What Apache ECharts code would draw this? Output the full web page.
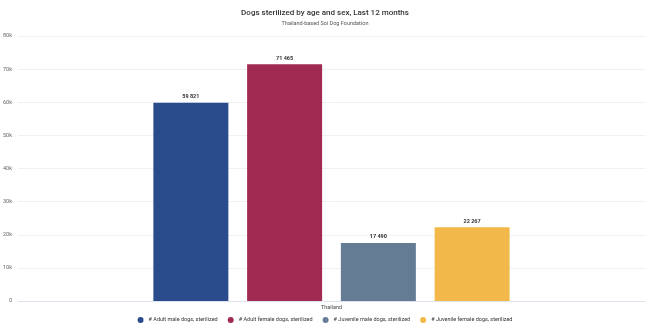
<!DOCTYPE html>
<html><head><meta charset="utf-8">
<script src="https://cdn.jsdelivr.net/npm/echarts@6/dist/echarts.min.js"></script>
<style>html,body{margin:0;padding:0;background:#fff}#c{width:650px;height:329px}</style>
</head><body><div id="c"></div>
<script>
const categories = ["Thailand"];
const seriesNames = ["# Adult male dogs, sterilized", "# Adult female dogs, sterilized", "# Juvenile male dogs, sterilized", "# Juvenile female dogs, sterilized"];
const adultMale = [59821];
const adultFemale = [71465];
const juvenileMale = [17490];
const juvenileFemale = [22267];
const yTicks = [0, 10000, 20000, 30000, 40000, 50000, 60000, 70000, 80000];
const colors = ["#2b4c8c", "#a02a52", "#647d95", "#f2b84a"];
const values = [adultMale, adultFemale, juvenileMale, juvenileFemale];

const chart = echarts.init(document.getElementById('c'));
const fmt = v => String(v).replace(/\B(?=(\d{3})+(?!\d))/g, ' ');
chart.setOption({
  animation: false,
  textStyle: {fontFamily: 'Roboto'},
  title: {
    text: 'Dogs sterilized by age and sex, Last 12 months',
    subtext: 'Thailand-based Soi Dog Foundation',
    left: 'center', top: 4, itemGap: 4,
    textStyle: {fontSize: 8, fontWeight: 500, color: '#333'},
    subtextStyle: {fontSize: 5.5, color: '#555'}
  },
  legend: {
    bottom: 1, left: 'center', icon: 'circle', itemWidth: 6, itemHeight: 6, itemGap: 10,
    textStyle: {fontSize: 5.5, color: '#333'}
  },
  grid: {left: 17, right: 5, top: 36, bottom: 28},
  xAxis: {
    type: 'category', data: categories,
    axisLine: {lineStyle: {color: '#dde3ee'}}, axisTick: {show: false},
    axisLabel: {fontSize: 5.5, color: '#444', margin: 4}
  },
  yAxis: {
    type: 'value', min: 0, max: 80000, interval: 10000,
    axisLabel: {fontSize: 5.5, color: '#666', margin: 6, formatter: v => v === 0 ? '0' : (v/1000) + 'k'},
    splitLine: {lineStyle: {color: '#eef0f3'}}
  },
  series: values.map((d, i) => ({
    name: seriesNames[i], type: 'bar', data: d, barWidth: 75, barGap: '25%',
    itemStyle: {color: colors[i]},
    label: {show: true, position: 'top', fontSize: 5.5, fontWeight: 'bold', color: '#333', distance: 3, formatter: p => fmt(p.value)}
  }))
});
</script></body></html>
